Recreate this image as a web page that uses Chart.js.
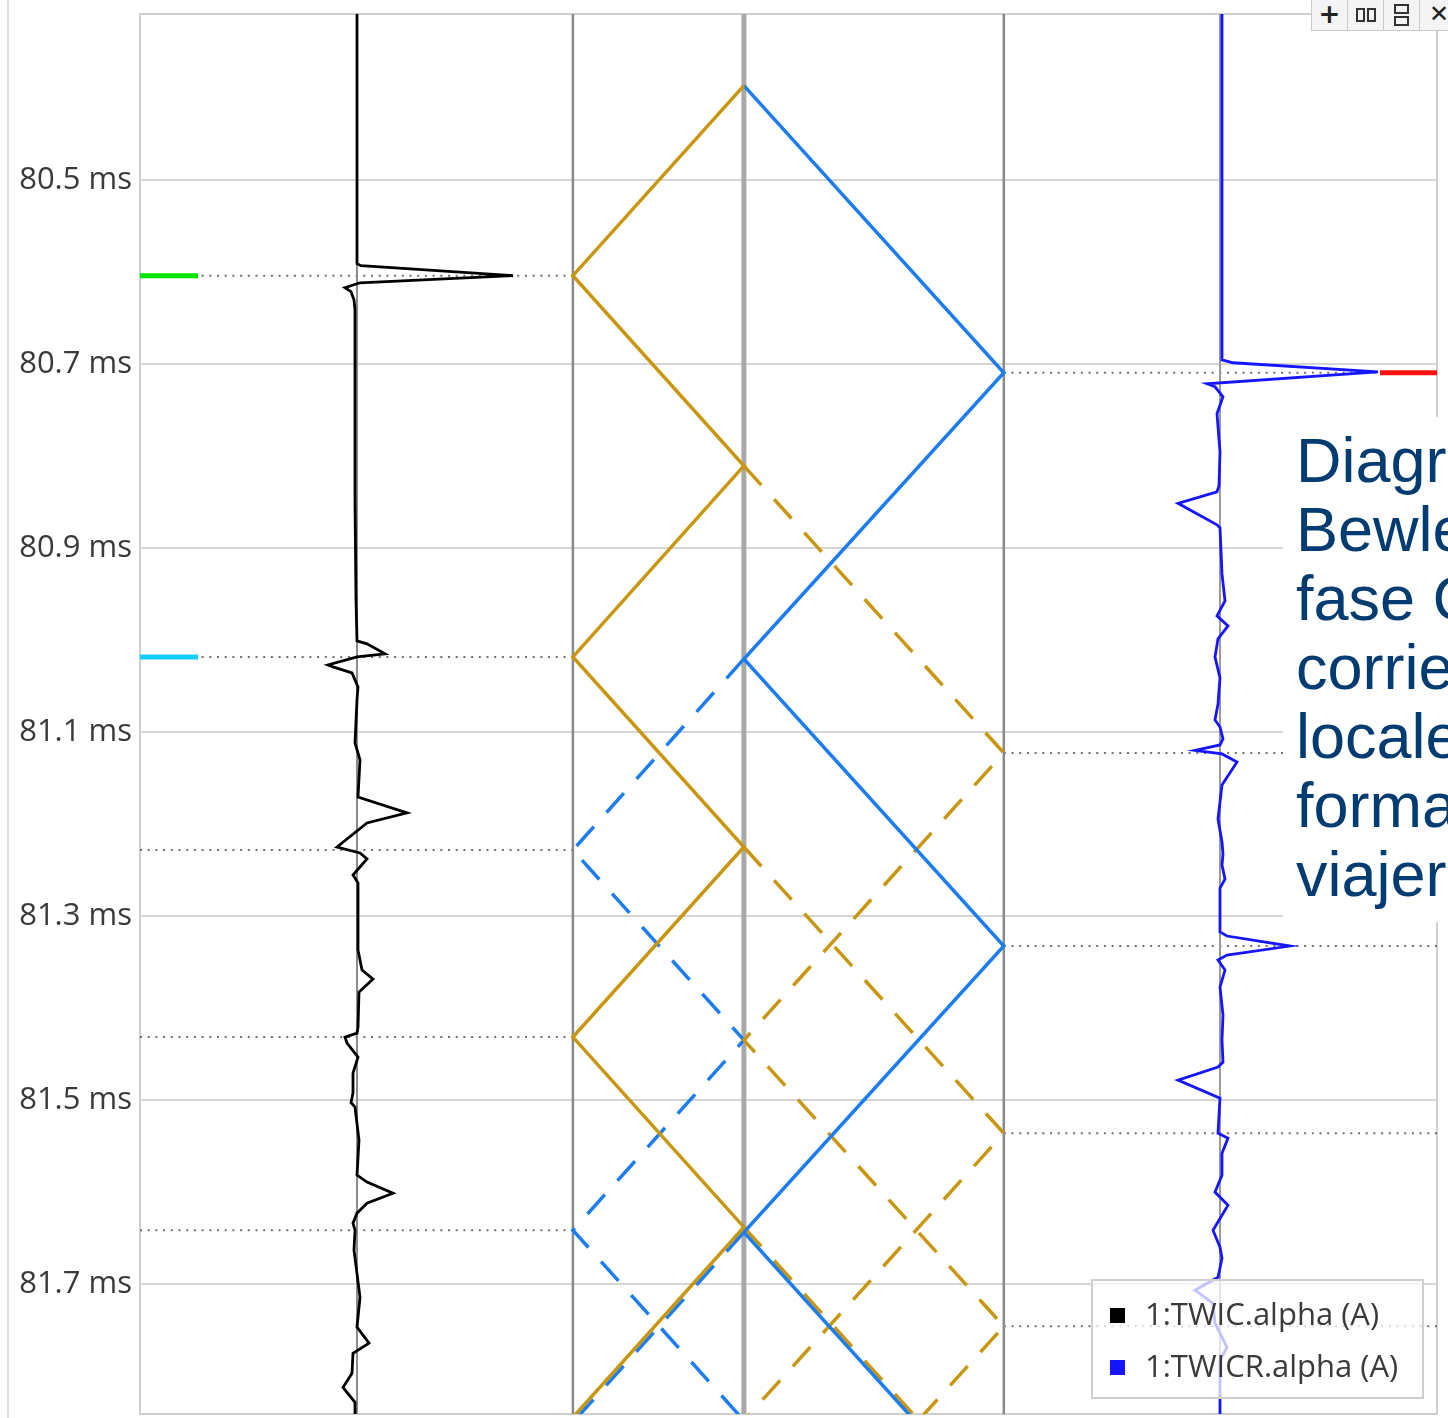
<!DOCTYPE html>
<html>
<head>
<meta charset="utf-8">
<title>Diagrama de Bewley</title>
<script src="https://cdn.jsdelivr.net/npm/chart.js@4.4.1/dist/chart.umd.min.js"></script>
<style>
  html, body { margin: 0; padding: 0; background: #fff; overflow: hidden; }
  #wrap { position: relative; width: 1448px; height: 1418px; overflow: hidden; }
  #edge { position: absolute; left: 7px; top: 0; width: 2px; height: 1418px; background: #dddddd; }
  #note {
    position: absolute; left: 1283px; top: 417px; width: 320px; height: 505px;
    background: #fff; box-sizing: border-box; padding: 9px 0 0 13px;
    font-family: "Liberation Sans", Arial, sans-serif; font-size: 63px; line-height: 69px;
    color: #003b71; white-space: nowrap;
  }
  #tools { position: absolute; left: 1311px; top: 0; height: 31px; display: flex; }
  .tb {
    position: relative; width: 35px; height: 30px; background: #f4f4f4;
    border: 1px solid #c9c9c9; border-top: none; margin-right: -1px; box-sizing: content-box;
  }
  .tb .plus { position: absolute; left: 0; right: 0; top: 0; text-align: center;
    font: bold 26px "DejaVu Sans", sans-serif; line-height: 28px; color: #222; }
  .tb .x { position: absolute; left: 9px; top: 0; font: bold 24px "DejaVu Sans", sans-serif; line-height: 28px; color: #222; }
  .tb .r { position: absolute; border: 2px solid #333; box-sizing: border-box; }
</style>
</head>
<body>
<div id="wrap">
  <canvas id="c" width="1448" height="1418"></canvas>
  <div id="edge"></div>
  <div id="note">Diagrama de<br>Bewley de la<br>fase C, de<br>corrientes<br>locales<br>formando ondas<br>viajeras</div>
  <div id="tools">
    <div class="tb"><div class="plus">+</div></div>
    <div class="tb"><div class="r" style="left:8px;top:8px;width:9px;height:14px"></div><div class="r" style="left:19px;top:8px;width:9px;height:14px"></div></div>
    <div class="tb"><div class="r" style="left:10px;top:4px;width:15px;height:10px"></div><div class="r" style="left:10px;top:16px;width:15px;height:10px"></div></div>
    <div class="tb" style="width:40px"><div class="x">✕</div></div>
  </div>
</div>
<script>
// ---- time axis (ms) ----
const timeRange = [80.32, 81.841];
const timeTicks = [80.5, 80.7, 80.9, 81.1, 81.3, 81.5, 81.7];

// ---- line positions (km) ----
const posRange = [-151.9, 303.2];
const busA = 0;
const faultPoint = 60;
const busB = 151.2;

// ---- current traces (A) ----
const ampRangeTWIC = [-217, 1080];
const ampRangeTWICR = [-1080, 217];
const traceLabels = ['1:TWIC.alpha (A)', '1:TWICR.alpha (A)'];

const twicTime = [80.320, 80.5913, 80.5935, 80.6043, 80.6120, 80.6174, 80.6217, 80.6304, 80.6413, 80.7391,
  80.8478, 80.9565, 81.0011, 81.0043, 81.0152, 81.0185, 81.0272, 81.0293, 81.0359, 81.0511,
  81.0652, 81.1120, 81.1304, 81.1707, 81.1880, 81.1989, 81.2250, 81.2315, 81.2380, 81.2554,
  81.2641, 81.3370, 81.3587, 81.3685, 81.3826, 81.4207, 81.4272, 81.4315, 81.4380, 81.4533,
  81.4707, 81.4924, 81.5026, 81.5076, 81.5435, 81.5815, 81.5891, 81.6011, 81.6120, 81.6228,
  81.6337, 81.6413, 81.6630, 81.7141, 81.7467, 81.7641, 81.7750, 81.7967, 81.8120, 81.8283, 81.8413];
const twicAmp = [0, 0, 4, 156, 3, -12, -6, -3, -2, -2,
  -2, -1, 0, 10, 28, 0, -29, -24, -5, 1,
  0, -2, 3, 1, 50, 10, -20, 3, 10, -4,
  1, 1, 5, 16, 2, 1, 0, -12, -10, 1,
  -4, -4, -6, -2, 2, 0, 10, 36, 10, 0,
  -4, -2, -3, 3, 0, 12, -4, -5, -14, -2, -2];

const twicrTime = [80.320, 80.6957, 80.6989, 80.7087, 80.7217, 80.7250, 80.7359, 80.7543, 80.7957, 80.8326,
  80.8391, 80.8516, 80.8750, 80.8783, 80.9283, 80.9576, 80.9739, 80.9848, 80.9989, 81.0185,
  81.0413, 81.0696, 81.0870, 81.0946, 81.1076, 81.1141, 81.1200, 81.1239, 81.1326, 81.1576,
  81.1946, 81.2196, 81.2326, 81.2446, 81.2598, 81.2696, 81.3174, 81.3217, 81.3326, 81.3424,
  81.3478, 81.3587, 81.3772, 81.4076, 81.4348, 81.4587, 81.4641, 81.4783, 81.4978, 81.5359,
  81.5413, 81.5576, 81.5815, 81.5999, 81.6141, 81.6413, 81.6598, 81.6717, 81.6924, 81.7065,
  81.7207, 81.7424, 81.7685, 81.7826, 81.8413];
const twicrAmp = [2, 2, 13, 158, -13, -5, 3, -3, 0, -1,
  -3, -42, -3, 0, 2, 5, -3, 8, -2, -5,
  0, -2, -5, 0, 3, 0, -25, 2, 17, 2,
  -2, 2, 3, 2, 5, 0, 0, 7, 70, 7,
  -2, 5, 0, 3, 2, 3, -2, -42, 0, -2,
  8, 2, 2, -5, 8, -7, 0, 2, -2, -25,
  -7, -5, 7, 0, 0];

// ---- lattice paths: [position km, time ms] ----
const goldSolid = [[60, 80.3978], [0, 80.6043], [60, 80.8109], [0, 81.0185], [60, 81.2250], [0, 81.4315], [60, 81.6380], [0, 81.8446]];
const blueSolid = [[60, 80.3978], [151.2, 80.7098], [60, 81.0207], [151.2, 81.3326], [60, 81.6435], [151.2, 81.9550]];
const goldDashedA = [[60, 80.8109], [151.2, 81.1228], [60, 81.4348], [151.2, 81.7457], [60, 82.0570]];
const goldDashedB = [[60, 81.2250], [151.2, 81.5359], [60, 81.8480]];
const goldDashedC = [[60, 81.6380], [151.2, 81.9500]];
const blueDashedA = [[60, 81.0207], [0, 81.2283], [60, 81.4348], [0, 81.6413], [60, 81.8480]];
const blueDashedB = [[60, 81.6435], [0, 81.8500]];

// ---- arrival instants at each bus (ms) ----
const arrivalsA = [80.6043, 81.0185, 81.2283, 81.4315, 81.6413];
const arrivalsB = [80.7098, 81.1228, 81.3326, 81.5359, 81.7457];

// ---- cursor markers (ms) ----
const cursorsLeft = [80.6043, 81.0185];
const cursorsRight = [80.7098];

// ---------- styles ----------
const GOLD = '#c9960f';
const BLUE_W = '#1c7df2';
const TRACE_BLUE = '#1515ff';
const FONT = '"Open Sans", "Noto Sans", sans-serif';

function path(points, color, dash, order) {
  return {
    data: points.map(p => ({ x: p[0], y: p[1] })),
    xAxisID: 'xPos', showLine: true, pointRadius: 0, borderColor: color,
    borderWidth: 3.5, borderDash: dash || [], tension: 0, order: order
  };
}
function vline(axis, x, color, width, order) {
  return {
    data: [{ x: x, y: timeRange[0] }, { x: x, y: timeRange[1] }],
    xAxisID: axis, showLine: true, pointRadius: 0, borderColor: color, borderWidth: width, order: order
  };
}
function hline(x0, x1, t) {
  return {
    data: [{ x: x0, y: t }, { x: x1, y: t }],
    xAxisID: 'xPos', showLine: true, pointRadius: 0, borderColor: '#707070', borderWidth: 2,
    borderDash: [2, 5.7], order: 6
  };
}

const datasets = [];
arrivalsA.forEach(t => datasets.push(hline(posRange[0], busA, t)));
arrivalsB.forEach(t => datasets.push(hline(busB, posRange[1], t)));

datasets.push(vline('xTWIC', 0, '#8c8c8c', 2, 5));
datasets.push(vline('xTWICR', 0, '#9a9a9a', 2, 5));
datasets.push(vline('xPos', busA, '#8a8a8a', 2.5, 5));
datasets.push(vline('xPos', faultPoint, '#a9a9a9', 5, 5));
datasets.push(vline('xPos', busB, '#8a8a8a', 2.5, 5));

const DASH = [26, 19];
datasets.push(path(goldDashedA, GOLD, DASH, 3));
datasets.push(path(goldDashedB, GOLD, DASH, 3));
datasets.push(path(goldDashedC, GOLD, DASH, 3));
datasets.push(path(blueDashedA, BLUE_W, DASH, 3));
datasets.push(path(blueDashedB, BLUE_W, DASH, 3));
datasets.push(path(goldSolid, GOLD, null, 2));
datasets.push(path(blueSolid, BLUE_W, null, 2));

datasets.push({
  label: traceLabels[0], data: twicTime.map((t, i) => ({ x: twicAmp[i], y: t })),
  xAxisID: 'xTWIC', showLine: true, pointRadius: 0, borderColor: '#000', borderWidth: 2.8, tension: 0, order: 0
});
datasets.push({
  label: traceLabels[1], data: twicrTime.map((t, i) => ({ x: twicrAmp[i], y: t })),
  xAxisID: 'xTWICR', showLine: true, pointRadius: 0, borderColor: TRACE_BLUE, borderWidth: 2.8, tension: 0, order: 0
});

const overlay = {
  id: 'overlay',
  beforeDatasetsDraw(chart) {
    const { ctx, chartArea: a } = chart;
    ctx.save();
    ctx.strokeStyle = '#cfcfcf';
    ctx.lineWidth = 2;
    ctx.strokeRect(a.left, a.top, a.right - a.left, a.bottom - a.top);
    ctx.restore();
  },
  afterDatasetsDraw(chart) {
    const { ctx, chartArea: a } = chart;
    const ys = chart.scales.y;
    const leftColors = ['#00e600', '#12cdf5'];
    ctx.save();
    ctx.lineWidth = 5;
    ctx.lineCap = 'butt';
    cursorsLeft.forEach((t, i) => {
      const y = ys.getPixelForValue(t);
      ctx.strokeStyle = leftColors[i];
      ctx.beginPath(); ctx.moveTo(a.left, y); ctx.lineTo(a.left + 58, y); ctx.stroke();
    });
    cursorsRight.forEach(t => {
      const y = ys.getPixelForValue(t);
      ctx.strokeStyle = '#ff1010';
      ctx.beginPath(); ctx.moveTo(a.right - 57, y); ctx.lineTo(a.right, y); ctx.stroke();
    });
    ctx.restore();
  },
  afterDraw(chart) {
    const { ctx, chartArea: a } = chart;
    const w = 331, h = 118;
    const x = a.right - 14 - w, y = a.bottom - 16 - h;
    const colors = ['#000000', TRACE_BLUE];
    ctx.save();
    ctx.fillStyle = 'rgba(255,255,255,0.74)';
    ctx.fillRect(x, y, w, h);
    ctx.strokeStyle = '#cfcfcf';
    ctx.lineWidth = 2;
    ctx.strokeRect(x, y, w, h);
    ctx.font = '31px ' + FONT;
    ctx.textBaseline = 'middle';
    traceLabels.forEach((lab, i) => {
      const cy = y + 36 + i * 52;
      ctx.fillStyle = colors[i];
      ctx.fillRect(x + 18, cy - 8, 15, 15);
      ctx.fillStyle = '#3a3a3a';
      ctx.fillText(lab, x + 53, cy);
    });
    ctx.restore();
  }
};

new Chart(document.getElementById('c'), {
  type: 'scatter',
  data: { datasets: datasets },
  options: {
    responsive: false,
    animation: false,
    events: [],
    layout: { padding: { left: 0, top: 14, right: 11, bottom: 4 } },
    plugins: { legend: { display: false }, tooltip: { enabled: false } },
    scales: {
      y: {
        type: 'linear', reverse: true, min: timeRange[0], max: timeRange[1],
        afterBuildTicks: s => { s.ticks = timeTicks.map(v => ({ value: v })); },
        afterFit: s => { s.width = 140; s.paddingTop = 0; s.paddingBottom = 0; },
        grid: { color: '#d5d5d5', lineWidth: 2, drawTicks: false },
        border: { display: false },
        ticks: {
          padding: 8, color: '#3a3a3a', font: { family: FONT, size: 31 },
          callback: v => v.toFixed(1) + ' ms'
        }
      },
      xPos: { type: 'linear', axis: 'x', position: 'bottom', display: false, min: posRange[0], max: posRange[1] },
      xTWIC: { type: 'linear', axis: 'x', position: 'bottom', display: false, min: ampRangeTWIC[0], max: ampRangeTWIC[1] },
      xTWICR: { type: 'linear', axis: 'x', position: 'bottom', display: false, min: ampRangeTWICR[0], max: ampRangeTWICR[1] }
    }
  },
  plugins: [overlay]
});
</script>
</body>
</html>
